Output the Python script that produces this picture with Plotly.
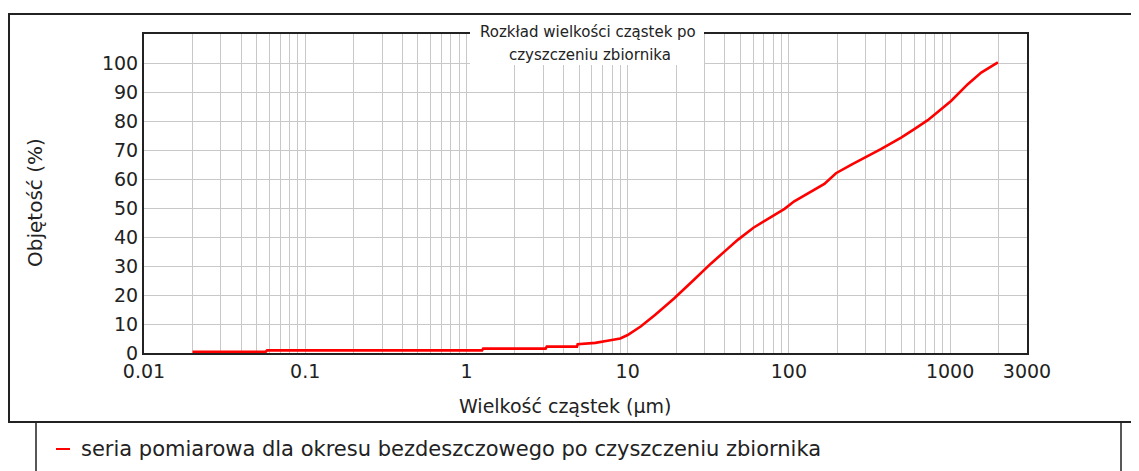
import plotly.graph_objects as go

# Particle size (µm) and cumulative volume (%)
size_um = [0.02, 0.057, 0.058, 1.25, 1.27, 3.1, 3.15, 4.85, 4.9, 6.3, 7.5, 9.0, 10.0,
           12.1, 14.9, 19.4, 25.6, 32.8, 41.8, 48.4, 60.3, 73.2, 94.0, 108, 119,
           166, 196, 243, 372, 497, 600, 727, 1014, 1288, 1560, 1980]
volume_pct = [0.45, 0.45, 0.9, 0.9, 1.5, 1.5, 2.2, 2.2, 3.0, 3.5, 4.2, 5.0, 6.2,
              9.2, 13.3, 18.8, 25.1, 30.8, 36.0, 39.1, 43.2, 46.0, 49.7, 52.3, 53.7,
              58.3, 62.0, 64.9, 70.3, 74.3, 77.2, 80.3, 86.9, 92.7, 96.7, 100.2]

series_name = "seria pomiarowa dla okresu bezdeszczowego po czyszczeniu zbiornika"
title_lines = ["Rozkład wielkości cząstek po", "czyszczeniu zbiornika"]
x_title = "Wielkość cząstek (µm)"
y_title = "Objętość (%)"

x_labeled = {0.01: "0.01", 0.1: "0.1", 1: "1", 10: "10", 100: "100", 1000: "1000", 3000: "3000"}
x_grid = []
for dec in [0.01, 0.1, 1, 10, 100, 1000]:
    for m in range(1, 10):
        v = round(dec * m, 6)
        if v <= 3000:
            x_grid.append(v)
x_grid.append(3000)
x_ticktext = [x_labeled.get(v, "") for v in x_grid]
y_ticks = list(range(0, 101, 10))

OFF = 8  # page body margin
W, H = 1139 - OFF, 471 - OFF
L, R, T, B = 144 - OFF, 1027 - OFF, 34 - OFF, 353 - OFF


def px(xp):
    return (xp - OFF - L) / (R - L)


def py(yp):
    return (B - (yp - OFF)) / (B - T)


FONT = "DejaVu Sans"
INK = "#222"
fig = go.Figure()
fig.add_trace(go.Scatter(x=size_um, y=volume_pct, mode="lines",
                         line=dict(color="#ff0000", width=2.6), name=series_name,
                         showlegend=False))

fig.update_layout(
    width=W, height=H,
    margin=dict(l=L, r=W - R, t=T, b=H - B),
    paper_bgcolor="white", plot_bgcolor="white",
    font=dict(family=FONT, size=19, color=INK),
    xaxis=dict(type="log", range=[-2, 3.47712], tickvals=x_grid, ticktext=x_ticktext,
               showgrid=True, gridcolor="#c8c8c8", gridwidth=1,
               showline=True, linecolor=INK, linewidth=2, mirror=True,
               ticks="", tickfont=dict(size=19, family=FONT, color=INK),
               zeroline=False),
    yaxis=dict(range=[0, 110], tickvals=y_ticks, showgrid=True, gridcolor="#c8c8c8",
               gridwidth=1, showline=True, linecolor=INK, linewidth=2, mirror=True,
               ticks="", tickfont=dict(size=19, family=FONT, color=INK),
               zeroline=False),
)

shapes = []
# outer chart frame
shapes.append(dict(type="rect", xref="paper", yref="paper",
                   x0=px(9), x1=px(1160), y0=py(422), y1=py(14),
                   line=dict(color=INK, width=2), layer="above"))
# legend frame
shapes.append(dict(type="rect", xref="paper", yref="paper",
                   x0=px(36), x1=px(1121), y0=py(490), y1=py(422),
                   line=dict(color=INK, width=1.5), layer="above"))
# white box behind title
shapes.append(dict(type="rect", xref="paper", yref="paper",
                   x0=px(470), x1=px(704), y0=py(65), y1=py(24),
                   fillcolor="white", line=dict(width=0), layer="above"))
# legend dash
shapes.append(dict(type="line", xref="paper", yref="paper",
                   x0=px(56), x1=px(70), y0=py(449), y1=py(449),
                   line=dict(color="#ff0000", width=2), layer="above"))
fig.update_layout(shapes=shapes)

ann = []
ann.append(dict(text=title_lines[0], xref="paper", yref="paper", x=px(588), y=py(32),
                showarrow=False, font=dict(size=15, family=FONT, color=INK),
                xanchor="center", yanchor="middle"))
ann.append(dict(text=title_lines[1], xref="paper", yref="paper", x=px(590), y=py(55),
                showarrow=False, font=dict(size=15, family=FONT, color=INK),
                xanchor="center", yanchor="middle"))
ann.append(dict(text=x_title, xref="paper", yref="paper", x=px(565), y=py(406),
                showarrow=False, font=dict(size=19, family=FONT, color=INK),
                xanchor="center", yanchor="middle"))
ann.append(dict(text=y_title, xref="paper", yref="paper", x=px(35), y=py(203),
                showarrow=False, textangle=-90, font=dict(size=20, family=FONT, color=INK),
                xanchor="center", yanchor="middle"))
ann.append(dict(text=series_name, xref="paper", yref="paper", x=px(79), y=py(449),
                showarrow=False, font=dict(size=21, family=FONT, color=INK),
                xanchor="left", yanchor="middle"))
fig.update_layout(annotations=ann)

fig.write_html("out.html", config={"displayModeBar": False})
